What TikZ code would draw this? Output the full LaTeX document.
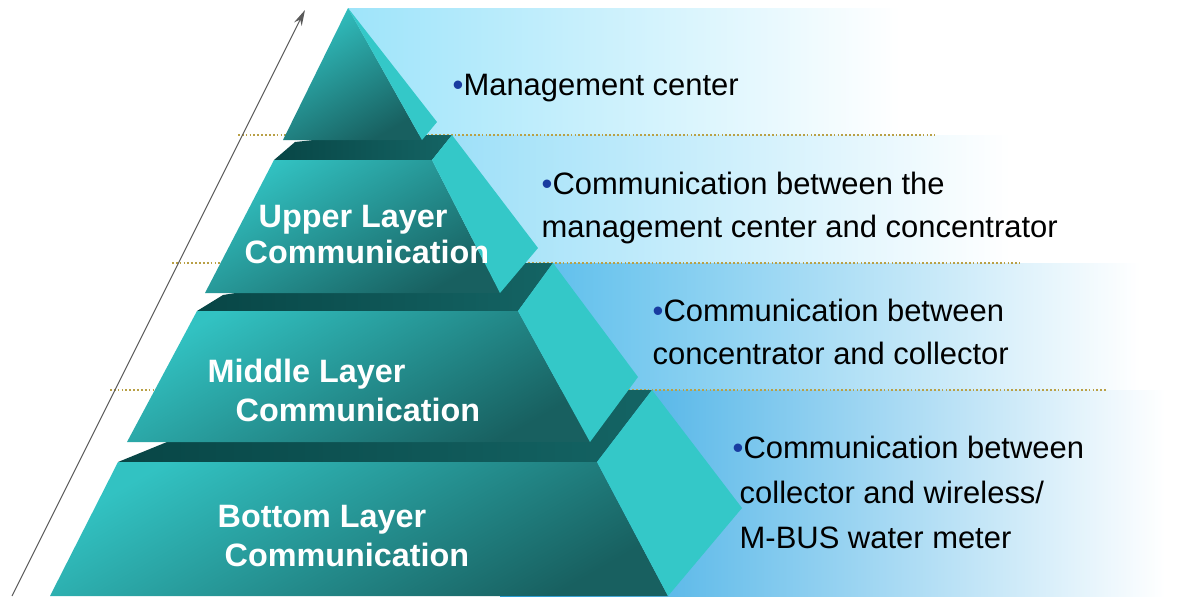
\documentclass[tikz,border=0pt]{standalone}
\usepackage{fontspec}
\setmainfont{Liberation Sans}
\usetikzlibrary{arrows.meta}
\definecolor{bandone}{RGB}{158,228,250}
\definecolor{bandtwo}{RGB}{140,218,247}
\definecolor{bandthree}{RGB}{62,178,232}
\definecolor{bandfour}{RGB}{40,163,226}
\definecolor{frontlight}{RGB}{50,194,194}
\definecolor{frontdark}{RGB}{24,96,96}
\definecolor{sideface}{RGB}{52,200,200}
\definecolor{topdark}{RGB}{8,70,70}
\definecolor{topmid}{RGB}{20,100,100}
\definecolor{dotline}{RGB}{185,160,70}
\definecolor{bulletblue}{RGB}{25,60,160}
\definecolor{arrowgray}{RGB}{90,90,90}

\begin{document}
\begin{tikzpicture}[x=0.01cm, y=-0.01cm,
    front/.style={top color=frontlight, bottom color=frontdark, shading angle=30},
    side/.style={fill=sideface},
    lid/.style={left color=topdark, right color=topmid},
    level/.style={dotline, line width=0.4pt, dash pattern=on 0.5pt off 0.6pt},
    layername/.style={anchor=base west, inner sep=0, text=white, font=\fontsize{9.2}{11}\selectfont\bfseries},
    note/.style={anchor=base west, inner sep=0, font=\fontsize{8.8}{11}\selectfont}]
    \useasboundingbox (0,0) rectangle (1196,596);
    \fill[white] (0,0) rectangle (1196,596);

    %% background bands
    \shade[left color=bandone, right color=white] (348,8) rectangle (900,135);
    \shade[left color=bandtwo, right color=white] (348,135) rectangle (1010,263);
    \shade[left color=bandthree, right color=white] (420,263) rectangle (1140,390);
    \shade[left color=bandfour, right color=white] (500,390) rectangle (1165,596);

    %% level lines
    \draw[level] (238,135) -- (935,135);
    \draw[level] (172,263) -- (1020,263);
    \draw[level] (110,390) -- (1107,390);

    %% arrow
    \coordinate (foot) at (12,596);
    \coordinate (tip) at (305,10);
    \draw[arrowgray, line width=0.3pt, -{Stealth[length=4.5pt, width=2.4pt]}] (foot) -- (tip);

    %% bottom layer
    \shade[lid] (118,462) -- (597,462) -- (652,390) -- (450,390) -- (167,442) -- cycle;
    \shade[front] (118,462) -- (597,462) -- (668,596) -- (50,596) -- cycle;
    \fill[side] (597,462) -- (652,390) -- (742,508) -- (668,596) -- cycle;

    %% middle layer
    \shade[lid] (197,311) -- (518,311) -- (553,263) -- (420,263) -- (223,295) -- cycle;
    \shade[front] (197,311) -- (518,311) -- (590,442) -- (127,442) -- cycle;
    \fill[side] (518,311) -- (553,263) -- (638,377) -- (590,442) -- cycle;

    %% upper layer
    \shade[lid] (274,160) -- (432,160) -- (452,135) -- (360,135) -- (295,142) -- cycle;
    \shade[front] (274,160) -- (432,160) -- (500,293) -- (205,293) -- cycle;
    \fill[side] (432,160) -- (452,135) -- (538,248) -- (500,293) -- cycle;

    %% apex
    \shade[front] (348,8) -- (422,140) -- (283,140) -- cycle;
    \fill[side] (348,8) -- (437,122) -- (422,140) -- cycle;

    %% layer names
    \node[layername] (upA) at (258,227) {Upper Layer};
    \node[layername] (upB) at (244,263) {Communication};
    \node[layername] (midA) at (207,382) {Middle Layer};
    \node[layername] (midB) at (235,421) {Communication};
    \node[layername] (botA) at (217,527) {Bottom Layer};
    \node[layername] (botB) at (224,566) {Communication};

    %% notes
    \node[note] (mgmt) at (452,95) {\textcolor{bulletblue}{•}Management center};
    \node[note] (upnoteA) at (541,194) {\textcolor{bulletblue}{•}Communication between the};
    \node[note] (upnoteB) at (541,237) {management center and concentrator};
    \node[note] (midnoteA) at (652,321) {\textcolor{bulletblue}{•}Communication between};
    \node[note] (midnoteB) at (652,364) {concentrator and collector};
    \node[note] (botnoteA) at (732,458) {\textcolor{bulletblue}{•}Communication between};
    \node[note] (botnoteB) at (739,503) {collector and wireless/};
    \node[note] (botnoteC) at (739,548) {M-BUS water meter};
\end{tikzpicture}
\end{document}
